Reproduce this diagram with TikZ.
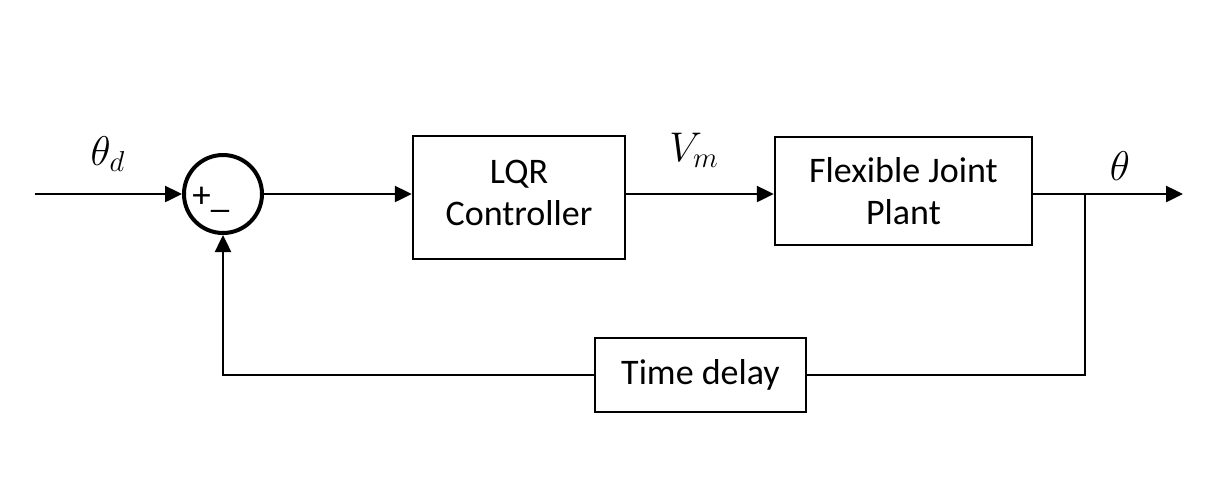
\documentclass[tikz,border=0pt]{standalone}
\usepackage{fontspec}
\setmainfont{Carlito}
\usepackage{amsmath}
\usepackage{tikz}
\usetikzlibrary{positioning,arrows.meta}

\begin{document}
\begin{tikzpicture}
[
x=0.5pt, y=-0.5pt,
block-a/.style={draw, line width=1.25pt, inner sep=0pt, align=center, font=\fontsize{18}{21}\selectfont},
sum-a/.style={circle, draw, line width=2pt, minimum size=39pt, inner sep=0pt},
text-a/.style={black, inner sep=0pt, font=\fontsize{19.5}{22}\selectfont},
line-a/.style={line width=1.25pt, -{Triangle[length=8.5pt,width=8pt]}},
line-b/.style={line width=1.25pt}
]
\useasboundingbox (0,0) rectangle (1226,500);
\node (sum)     [sum-a]                                               at (223,194)   {};
\node (sum-pm)  [text-a, anchor=base west, font=\fontsize{18.5}{21}\selectfont] at (192,207) {+\_};
\node (lqr)     [block-a, minimum width=106pt, minimum height=61.5pt, text depth=5pt] at (519,197.5) {LQR\\Controller};
\node (plant)   [block-a, minimum width=128.5pt, minimum height=54pt] at (903.5,191) {Flexible Joint\\Plant};
\node (delay)   [block-a, minimum width=105.5pt, minimum height=37pt] at (700.5,375) {Time delay};
\node (theta-d) [text-a]                                              at (108,154)   {$\theta_d$};
\node (v-m)     [text-a]                                              at (694,150)   {$V_m$};
\node (theta)   [text-a]                                              at (1120,166)  {$\theta$};
\coordinate (in)     at (35,194);
\coordinate (branch) at (1085,194);
\coordinate (out)    at (1183,194);
% forward path
\draw [line-a] (in) -- (sum);
\draw [line-a] (sum.east) -- (sum.east -| lqr.west);
\draw [line-a] (lqr.east |- sum.east) -- (plant.west |- sum.east);
\draw [line-a] (plant.east |- sum.east) -- (out);
% feedback path
\draw [line-b] (branch) |- (delay.east);
\draw [line-a] (delay.west) -| (sum.south);
\end{tikzpicture}
\end{document}
